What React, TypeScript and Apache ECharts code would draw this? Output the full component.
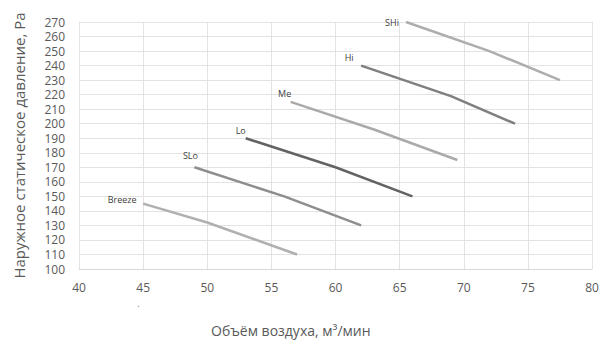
import React, { useEffect, useRef } from "react";
import * as echarts from "echarts";

// Fan speed modes and their pressure / airflow curves
const modes = ["Breeze", "SLo", "Lo", "Me", "Hi", "SHi"];
const airflow: number[][] = [
  [45, 50, 57],
  [49, 56, 62],
  [53, 60, 66],
  [56.5, 63, 69.5],
  [62, 69, 74],
  [65.5, 72, 77.5],
];
const pressure: number[][] = [
  [145, 132, 110],
  [170, 150, 130],
  [190, 170, 150],
  [215, 196, 175],
  [240, 219, 200],
  [270, 250, 230],
];
const lineColors = ["#b0b0b0", "#8e8e8e", "#636363", "#aaaaaa", "#7f7f7f", "#adadad"];
const labelOffsets: number[][] = [
  [-21, -4],
  [-4, -12],
  [-5, -8],
  [-6, -8],
  [-12, -8],
  [-14, 0],
];

const FONT = "'Open Sans', 'Noto Sans', sans-serif";

export default function App() {
  const ref = useRef<HTMLDivElement>(null);

  useEffect(() => {
    if (!ref.current) return;
    const chart = echarts.init(ref.current, undefined, { renderer: "svg" });

    const series = modes.map((name, i) => ({
      name,
      type: "line" as const,
      symbol: "none",
      lineStyle: { color: lineColors[i], width: 2.5 },
      itemStyle: { color: lineColors[i] },
      data: airflow[i].map((x, j) => ({
        value: [x, pressure[i][j]],
        symbol: j === 0 ? "circle" : "none",
        symbolSize: 0.1,
        label: {
          show: j === 0,
          formatter: name,
          position: "inside",
          offset: labelOffsets[i],
          fontSize: 9,
          color: "#404040",
          fontFamily: FONT,
        },
      })),
    }));

    chart.setOption({
      animation: false,
      backgroundColor: "#ffffff",
      textStyle: { fontFamily: FONT },
      title: {
        text: "Объём воздуха, м³/мин",
        left: 206,
        top: 318,
        textStyle: { fontSize: 14, fontWeight: "normal", color: "#595959", fontFamily: FONT },
      },
      graphic: [
        {
          type: "text",
          left: 137,
          top: 298,
          style: { text: ".", fontSize: 10, fill: "#808080" },
        },
      ],
      grid: { left: 79, right: 16, top: 22, bottom: 71, containLabel: false },
      xAxis: {
        type: "value",
        min: 40,
        max: 80,
        interval: 5,
        axisLine: { show: true, lineStyle: { color: "#d9d9d9" } },
        axisTick: { show: false },
        axisLabel: { color: "#595959", fontSize: 12, margin: 12, fontFamily: FONT },
        splitLine: { show: true, lineStyle: { color: "#e3e3e3", width: 1 } },
      },
      yAxis: {
        type: "value",
        min: 100,
        max: 270,
        interval: 10,
        name: "Наружное статическое давление, Pa",
        nameLocation: "middle",
        nameGap: 53,
        nameTextStyle: { color: "#595959", fontSize: 15, fontFamily: FONT },
        axisLine: { show: false },
        axisTick: { show: false },
        axisLabel: { color: "#595959", fontSize: 12, margin: 14, fontFamily: FONT },
        splitLine: { show: true, lineStyle: { color: "#e3e3e3", width: 1 } },
      },
      series,
    });

    return () => chart.dispose();
  }, []);

  return (
    <div
      ref={ref}
      style={{ position: "fixed", left: 0, top: 0, width: 608, height: 340 }}
    />
  );
}
